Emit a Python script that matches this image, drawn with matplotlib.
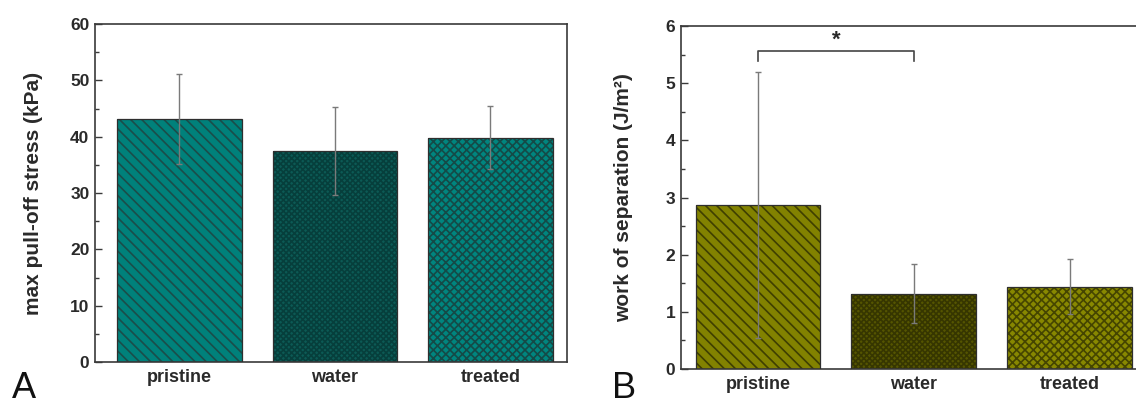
import matplotlib
matplotlib.use("Agg")
import matplotlib.pyplot as plt
from matplotlib.ticker import MultipleLocator

plt.rcParams['font.family'] = ['Liberation Sans', 'DejaVu Sans']
plt.rcParams['hatch.linewidth'] = 1.2

categories = ["pristine", "water", "treated"]
stress_vals = [43.2, 37.4, 39.8]
stress_err = [8.0, 7.8, 5.6]
work_vals = [2.87, 1.32, 1.44]
work_err = [2.33, 0.51, 0.48]

hatches = ['\\\\\\', 'xxxxxx', 'xxxx']
colorsA = ['#00817b', '#0c5a55', '#00857f']
hatchA = ['#1b4d4a', '#063f3c', '#154a47']
colorsB = ['#828200', '#555500', '#888800']
hatchB = ['#3f3f00', '#363600', '#454500']

fig = plt.figure(figsize=(11.36, 4.07), dpi=100)
axA = fig.add_axes([95/1136, 45/407, 472/1136, 338/407])
axB = fig.add_axes([681/1136, 38/407, 472/1136, 343/407])

spine_col = '#3a3a3a'
txt_col = '#2a2a2a'

def draw(ax, vals, errs, faces, hcols, ymax, major, minor, ylabel, xlim, labx):
    x = list(range(len(categories)))
    for i in x:
        ax.bar(i, vals[i], width=0.8, color=faces[i], edgecolor=hcols[i],
               hatch=hatches[i], linewidth=0, zorder=2)
        ax.bar(i, vals[i], width=0.8, fill=False, edgecolor='#2e2e2e',
               linewidth=0.9, zorder=3)
    ax.errorbar(x, vals, yerr=errs, fmt='none', ecolor='#7a7a7a',
                elinewidth=1.0, capsize=2.5, capthick=1.0, zorder=4)
    ax.set_xlim(*xlim)
    ax.set_ylim(0, ymax)
    ax.yaxis.set_major_locator(MultipleLocator(major))
    ax.yaxis.set_minor_locator(MultipleLocator(minor))
    ax.tick_params(axis='y', which='major', direction='in', length=5,
                   width=1, color=spine_col, labelsize=12.5, pad=4,
                   labelcolor=txt_col)
    ax.tick_params(axis='y', which='minor', direction='in', length=3,
                   width=1, color=spine_col)
    for lab in ax.get_yticklabels():
        lab.set_fontweight('bold')
    ax.set_xticks(x)
    ax.set_xticklabels(categories, fontweight='bold', fontsize=13,
                       color=txt_col)
    ax.tick_params(axis='x', length=0, pad=5)
    ax.set_ylabel(ylabel, fontweight='bold', fontsize=15, color=txt_col)
    ax.yaxis.set_label_coords(labx, 0.5)
    for s in ax.spines.values():
        s.set_color(spine_col)
        s.set_linewidth(1.2)

draw(axA, stress_vals, stress_err, colorsA, hatchA, 60, 10, 5,
     'max pull-off stress (kPa)', (-0.543, 2.492), -0.110)
draw(axB, work_vals, work_err, colorsB, hatchB, 6, 1, 0.5,
     'work of separation (J/m²)', (-0.494, 2.536), -0.102)

# significance bracket
bx = [0, 0, 1, 1]
by = [5.38, 5.57, 5.57, 5.38]
axB.plot(bx, by, color='#444444', linewidth=1.2, zorder=5)
axB.text(0.5, 5.56, '*', ha='center', va='bottom', fontsize=16,
         fontweight='bold', color=txt_col)

fig.text(12/1136, 0.5/407, 'A', fontsize=26, color='#111111', va='bottom')
fig.text(612/1136, 0.5/407, 'B', fontsize=26, color='#111111', va='bottom')

fig.savefig('out.png', dpi=100)
